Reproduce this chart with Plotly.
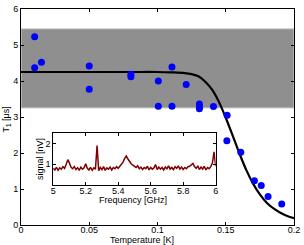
import plotly.graph_objects as go

# Measured T1 data points
temp_pts = [0.010, 0.010, 0.015, 0.050, 0.050, 0.0805, 0.0805, 0.1006, 0.1006, 0.1106, 0.1106,
            0.121, 0.1307, 0.1307, 0.1307, 0.141, 0.151, 0.1508, 0.161, 0.171, 0.176, 0.181, 0.191]
t1_pts = [5.23, 4.37, 4.52, 4.42, 3.77, 4.19, 4.12, 4.00, 3.30, 4.39, 3.30,
          3.90, 3.36, 3.28, 3.23, 3.29, 3.05, 2.34, 2.02, 1.23, 1.10, 0.79, 0.58]

# Fit curve
temp_fit = [0.0, 0.02, 0.04, 0.06, 0.08, 0.10, 0.11, 0.12, 0.125, 0.13, 0.135, 0.14, 0.145,
            0.15, 0.155, 0.16, 0.165, 0.17, 0.175, 0.18, 0.185, 0.19, 0.195, 0.2]
t1_fit = [4.25, 4.25, 4.25, 4.25, 4.25, 4.25, 4.24, 4.22, 4.19, 4.13, 3.98, 3.76, 3.42,
          2.98, 2.49, 1.99, 1.53, 1.15, 0.85, 0.62, 0.46, 0.34, 0.25, 0.19]

# Gray band limits
band_low = 3.25
band_high = 5.45

# Inset spectrum
freq = [5.00, 5.01, 5.02, 5.03, 5.04, 5.05, 5.06, 5.07, 5.08, 5.09,
        5.10, 5.11, 5.12, 5.13, 5.14, 5.15, 5.16, 5.17, 5.18, 5.19,
        5.20, 5.21, 5.22, 5.23, 5.24, 5.25, 5.26, 5.27, 5.28, 5.29,
        5.30, 5.31, 5.32, 5.33, 5.34, 5.35, 5.36, 5.37, 5.38, 5.39,
        5.40, 5.41, 5.42, 5.43, 5.44, 5.45, 5.46, 5.47, 5.48, 5.49,
        5.50, 5.51, 5.52, 5.53, 5.54, 5.55, 5.56, 5.57, 5.58, 5.59,
        5.60, 5.61, 5.62, 5.63, 5.64, 5.65, 5.66, 5.67, 5.68, 5.69,
        5.70, 5.71, 5.72, 5.73, 5.74, 5.75, 5.76, 5.77, 5.78, 5.79,
        5.80, 5.81, 5.82, 5.83, 5.84, 5.85, 5.86, 5.87, 5.88, 5.89,
        5.90, 5.91, 5.92, 5.93, 5.94, 5.95, 5.96, 5.97, 5.98, 5.99, 6.00]
signal = [0.80, 0.72, 0.85, 0.70, 0.82, 0.76, 0.88, 0.80, 1.00, 1.22,
          1.05, 0.85, 0.78, 0.88, 0.74, 0.83, 0.70, 0.86, 0.76, 0.82,
          1.02, 0.80, 0.72, 0.85, 0.70, 0.82, 0.76, 1.90, 0.68, 0.84,
          0.74, 0.88, 0.70, 0.82, 0.76, 0.86, 0.72, 0.84, 0.78, 0.88,
          0.80, 0.90, 0.96, 1.10, 1.28, 1.40, 1.25, 1.12, 1.02, 0.95,
          0.90, 0.84, 0.92, 0.78, 0.86, 0.74, 0.84, 0.78, 0.90, 0.72,
          0.84, 0.76, 0.82, 0.98, 0.74, 0.86, 0.76, 0.84, 0.72, 0.86,
          0.78, 0.92, 0.76, 0.84, 0.74, 0.88, 0.80, 0.92, 0.76, 0.86,
          0.74, 0.84, 0.78, 0.88, 0.90, 0.96, 1.04, 0.88, 0.80, 0.92,
          0.74, 0.86, 0.76, 0.90, 0.72, 0.84, 0.78, 0.88, 1.05, 1.60, 0.90]

main_xticks = [0, 0.05, 0.1, 0.15, 0.2]
main_xticklabels = ["0", "0.05", "0.1", "0.15", "0.2"]
main_yticks = [0, 1, 2, 3, 4, 5, 6]
inset_xticks = [5, 5.2, 5.4, 5.6, 5.8, 6]
inset_xticklabels = ["5", "5.2", "5.4", "5.6", "5.8", "6"]
inset_yticks = [1, 2]

FONT = "Liberation Sans, Arial, sans-serif"

fig = go.Figure()

fig.add_trace(go.Scatter(x=temp_fit, y=t1_fit, mode="lines", line=dict(color="black", width=2.2, shape="spline"),
                         xaxis="x", yaxis="y", showlegend=False, hoverinfo="skip"))
fig.add_trace(go.Scatter(x=temp_pts, y=t1_pts, mode="markers",
                         marker=dict(color="#0000ff", size=7, line=dict(width=0)),
                         xaxis="x", yaxis="y", showlegend=False))
fig.add_trace(go.Scatter(x=freq, y=signal, mode="lines", line=dict(color="#800000", width=1.5),
                         xaxis="x2", yaxis="y2", showlegend=False))

fig.add_shape(type="rect", xref="x", yref="y", x0=0, x1=0.2, y0=band_low, y1=band_high,
              fillcolor="#8f8f8f", line=dict(color="#cfcfcf", width=1), layer="below")

axis_common = dict(showgrid=False, zeroline=False, showline=True, linecolor="black", linewidth=1,
                   mirror="ticks", ticks="inside", ticklen=3, tickcolor="black",
                   tickfont=dict(family=FONT, size=9, color="black"))

fig.update_layout(
    width=304, height=245,
    margin=dict(l=21, r=4, t=4, b=20),
    paper_bgcolor="white", plot_bgcolor="white",
    font=dict(family=FONT, size=9, color="black"),
    xaxis=dict(range=[0, 0.2], tickvals=main_xticks, ticktext=main_xticklabels, domain=[0, 1], anchor="y",
               ticklabelstandoff=-4, **axis_common),
    yaxis=dict(range=[0, 6], tickvals=main_yticks, domain=[0, 1], anchor="x", **axis_common),
    xaxis2=dict(range=[5, 6], tickvals=inset_xticks, ticktext=inset_xticklabels, domain=[0.118, 0.713], anchor="y2",
                ticklabelstandoff=-3, **axis_common),
    yaxis2=dict(range=[0, 2.5], tickvals=inset_yticks, domain=[0.186, 0.425], anchor="x2", **axis_common),
    annotations=[
        dict(text="T<sub>1</sub> [μs]", xref="paper", yref="paper", x=-0.054, y=0.49, textangle=-90,
             showarrow=False, xanchor="center", yanchor="middle", font=dict(size=9)),
        dict(text="Temperature [K]", xref="paper", yref="paper", x=0.444, y=-0.068,
             showarrow=False, xanchor="center", yanchor="middle", font=dict(size=9)),
        dict(text="signal [nV]", xref="paper", yref="paper", x=0.068, y=0.303, textangle=-90,
             showarrow=False, xanchor="center", yanchor="middle", font=dict(size=9)),
        dict(text="Frequency [GHz]", xref="paper", yref="paper", x=0.409, y=0.115,
             showarrow=False, xanchor="center", yanchor="middle", font=dict(size=9)),
    ],
)

fig.write_html("out.html", config={"displayModeBar": False},
               post_script="document.body.style.margin='0px';")
